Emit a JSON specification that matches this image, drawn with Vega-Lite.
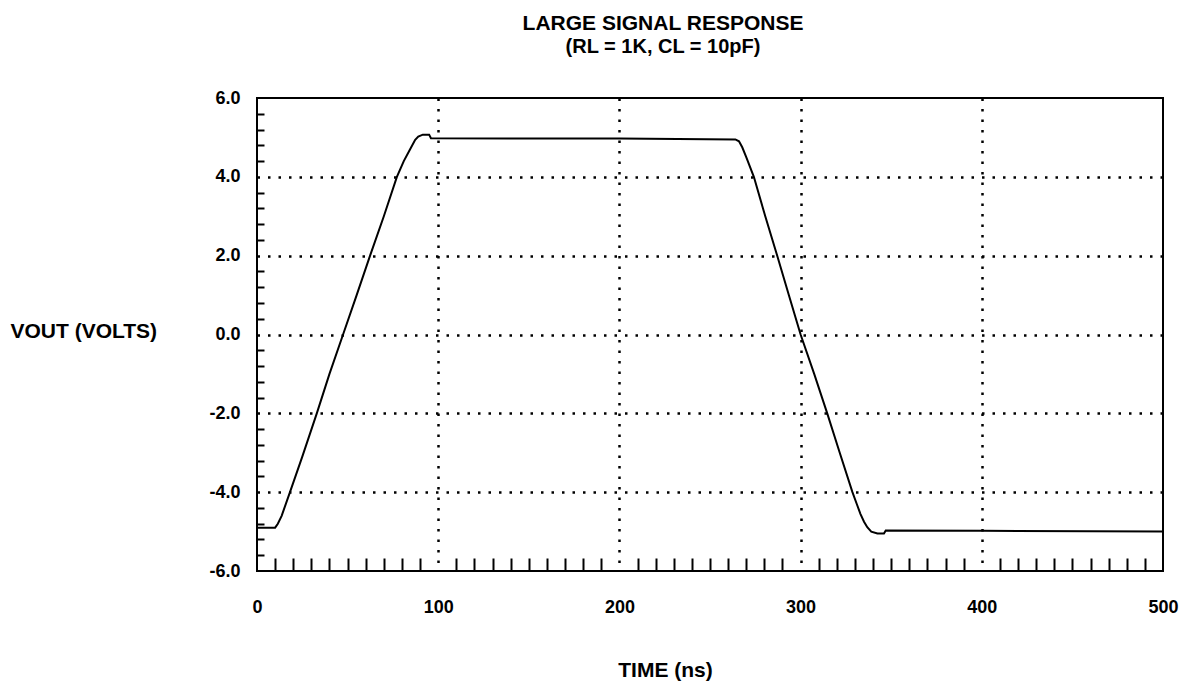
{
  "$schema": "https://vega.github.io/schema/vega-lite/v6.json",
  "width": 906,
  "height": 473,
  "autosize": {"type": "none"},
  "padding": {"left": 257, "top": 98, "right": 24, "bottom": 111},
  "background": "white",
  "title": {
    "text": "LARGE SIGNAL RESPONSE",
    "subtitle": "(RL = 1K, CL = 10pF)",
    "font": "Liberation Sans",
    "fontSize": 21,
    "fontWeight": "bold",
    "color": "black",
    "subtitleFont": "Liberation Sans",
    "subtitleFontSize": 20,
    "subtitleFontWeight": "bold",
    "subtitleColor": "black",
    "subtitlePadding": 3,
    "anchor": "middle",
    "frame": "group",
    "dx": -47,
    "offset": 32
  },
  "config": {"view": {"stroke": "black", "strokeWidth": 2}},
  "data": {
    "values": [
      {"t": 0, "v": -4.9},
      {"t": 10, "v": -4.9},
      {"t": 11.5, "v": -4.8},
      {"t": 13.6, "v": -4.6},
      {"t": 18.2, "v": -4.0},
      {"t": 25, "v": -3.1},
      {"t": 33, "v": -2.0},
      {"t": 40, "v": -1.0},
      {"t": 47.5, "v": 0.0},
      {"t": 55, "v": 1.0},
      {"t": 62.4, "v": 2.0},
      {"t": 70, "v": 3.0},
      {"t": 77.2, "v": 4.0},
      {"t": 81, "v": 4.4},
      {"t": 84.5, "v": 4.7},
      {"t": 87.3, "v": 4.94},
      {"t": 89, "v": 5.02},
      {"t": 91.5, "v": 5.07},
      {"t": 95, "v": 5.07},
      {"t": 96, "v": 4.98},
      {"t": 150, "v": 4.97},
      {"t": 200, "v": 4.97},
      {"t": 264, "v": 4.95},
      {"t": 266, "v": 4.9},
      {"t": 267.8, "v": 4.75},
      {"t": 270, "v": 4.5},
      {"t": 274.2, "v": 4.0},
      {"t": 280.5, "v": 3.0},
      {"t": 287.1, "v": 2.0},
      {"t": 293.5, "v": 1.0},
      {"t": 300, "v": 0.0},
      {"t": 307.5, "v": -1.0},
      {"t": 314.7, "v": -2.0},
      {"t": 321.6, "v": -3.0},
      {"t": 328.6, "v": -4.0},
      {"t": 331, "v": -4.3},
      {"t": 333, "v": -4.55},
      {"t": 335, "v": -4.75},
      {"t": 336.8, "v": -4.89},
      {"t": 339, "v": -5.0},
      {"t": 342.4, "v": -5.05},
      {"t": 346, "v": -5.05},
      {"t": 347, "v": -4.97},
      {"t": 400, "v": -4.98},
      {"t": 500, "v": -5.0}
    ]
  },
  "mark": {"type": "line", "color": "black", "strokeWidth": 2},
  "encoding": {
    "x": {
      "field": "t",
      "type": "quantitative",
      "scale": {"domain": [0, 500], "nice": false, "zero": false},
      "axis": {
        "values": [0,10,20,30,40,50,60,70,80,90,100,110,120,130,140,150,160,170,180,190,200,210,220,230,240,250,260,270,280,290,300,310,320,330,340,350,360,370,380,390,400,410,420,430,440,450,460,470,480,490,500],
        "format": "d",
        "labelExpr": "datum.value % 100 === 0 ? datum.label : ''",
        "labelFont": "Liberation Sans",
        "labelFontSize": 18,
        "labelFontWeight": "bold",
        "labelColor": "black",
        "labelPadding": 40,
        "labelFlush": false,
        "labelOverlap": false,
        "labelBound": false,
        "domain": false,
        "tickSize": -13,
        "tickWidth": 2,
        "tickColor": "black",
        "tickOpacity": {"condition": {"test": "datum.value % 100 === 0", "value": 0}, "value": 1},
        "grid": true,
        "gridColor": "black",
        "gridWidth": 2.5,
        "gridDash": [2.5, 8],
        "gridOpacity": {"condition": {"test": "datum.value % 100 === 0 && datum.value > 0 && datum.value < 500", "value": 1}, "value": 0},
        "title": "TIME (ns)",
        "titleFont": "Liberation Sans",
        "titleFontSize": 21,
        "titleFontWeight": "bold",
        "titleColor": "black",
        "titleX": 408,
        "titleY": 105,
        "titleAlign": "center",
        "titleBaseline": "alphabetic"
      }
    },
    "y": {
      "field": "v",
      "type": "quantitative",
      "scale": {"domain": [-6, 6], "nice": false, "zero": false},
      "axis": {
        "values": [-6,-5.6,-5.2,-4.8,-4.4,-4,-3.6,-3.2,-2.8,-2.4,-2,-1.6,-1.2,-0.8,-0.4,0,0.4,0.8,1.2,1.6,2,2.4,2.8,3.2,3.6,4,4.4,4.8,5.2,5.6,6],
        "labelExpr": "abs(datum.value % 2) < 0.001 ? (datum.value < 0 ? '-' : '') + format(abs(datum.value), '.1f') : ''",
        "labelFont": "Liberation Sans",
        "labelFontSize": 18,
        "labelFontWeight": "bold",
        "labelColor": "black",
        "labelPadding": 24,
        "labelFlush": false,
        "labelOverlap": false,
        "labelBound": false,
        "domain": false,
        "tickSize": -7,
        "tickWidth": 2,
        "tickColor": "black",
        "tickOpacity": {"condition": {"test": "abs(datum.value % 2) < 0.001", "value": 0}, "value": 1},
        "grid": true,
        "gridColor": "black",
        "gridWidth": 2.5,
        "gridDash": [2.5, 8],
        "gridOpacity": {"condition": {"test": "abs(datum.value % 2) < 0.001 && abs(datum.value) < 5", "value": 1}, "value": 0},
        "title": "VOUT (VOLTS)",
        "titleFont": "Liberation Sans",
        "titleFontSize": 21,
        "titleFontWeight": "bold",
        "titleColor": "black",
        "titleAngle": 0,
        "titleX": -247,
        "titleY": 239,
        "titleAlign": "left",
        "titleBaseline": "alphabetic"
      }
    }
  }
}
